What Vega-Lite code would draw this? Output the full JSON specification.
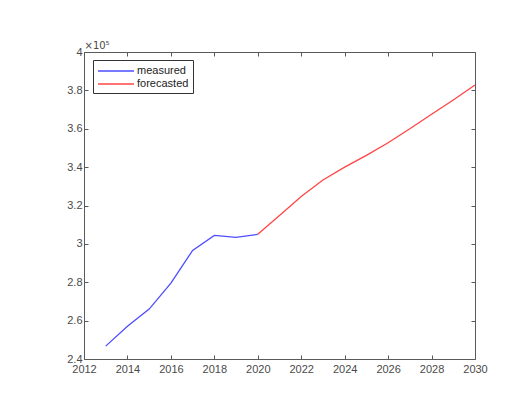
{
  "$schema": "https://vega.github.io/schema/vega-lite/v6.json",
  "autosize": "none",
  "width": 391,
  "height": 307,
  "padding": {"left": 84, "top": 52, "right": 45, "bottom": 46},
  "background": "white",
  "config": {
    "font": "Liberation Sans",
    "view": {"stroke": "#5a5a5a", "strokeWidth": 1},
    "axis": {
      "grid": false,
      "domain": false,
      "tickColor": "#5a5a5a",
      "tickSize": -4,
      "labelFont": "Liberation Sans",
      "labelFontSize": 11,
      "labelColor": "#4a4a4a",
      "labelFlush": false,
      "labelOverlap": false,
      "titleFont": "Liberation Sans"
    }
  },
  "data": {
    "values": [
      {"year": 2013, "value": 246700, "series": "measured"},
      {"year": 2014, "value": 257100, "series": "measured"},
      {"year": 2015, "value": 266000, "series": "measured"},
      {"year": 2016, "value": 279500, "series": "measured"},
      {"year": 2017, "value": 296600, "series": "measured"},
      {"year": 2018, "value": 304400, "series": "measured"},
      {"year": 2019, "value": 303400, "series": "measured"},
      {"year": 2020, "value": 305000, "series": "measured"},
      {"year": 2020, "value": 305000, "series": "forecasted"},
      {"year": 2021, "value": 314800, "series": "forecasted"},
      {"year": 2022, "value": 324700, "series": "forecasted"},
      {"year": 2023, "value": 333300, "series": "forecasted"},
      {"year": 2024, "value": 340000, "series": "forecasted"},
      {"year": 2025, "value": 346100, "series": "forecasted"},
      {"year": 2026, "value": 352700, "series": "forecasted"},
      {"year": 2027, "value": 360000, "series": "forecasted"},
      {"year": 2028, "value": 367600, "series": "forecasted"},
      {"year": 2029, "value": 375000, "series": "forecasted"},
      {"year": 2030, "value": 382800, "series": "forecasted"}
    ]
  },
  "resolve": {"axis": {"x": "independent", "y": "independent"}},
  "layer": [
    {
      "mark": {"type": "line", "strokeWidth": 1.3},
      "encoding": {
        "x": {
          "field": "year", "type": "quantitative",
          "scale": {"domain": [2012, 2030], "nice": false, "zero": false},
          "axis": {"values": [2012, 2014, 2016, 2018, 2020, 2022, 2024, 2026, 2028, 2030], "format": "d", "title": null, "labelPadding": 8}
        },
        "y": {
          "field": "value", "type": "quantitative",
          "scale": {"domain": [240000, 400000], "nice": false, "zero": false},
          "axis": {
            "values": [240000, 260000, 280000, 300000, 320000, 340000, 360000, 380000, 400000],
            "labelExpr": "format(datum.value / 100000, '.1~f')",
            "labelPadding": 6,
            "title": "×10⁵",
            "titleFont": "DejaVu Sans",
            "titleAngle": 0,
            "titleAlign": "left",
            "titleBaseline": "bottom",
            "titleX": 0,
            "titleY": -2,
            "titleFontSize": 10,
            "titleFontWeight": "normal",
            "titleColor": "#4a4a4a"
          }
        },
        "color": {
          "field": "series", "type": "nominal",
          "scale": {"domain": ["measured", "forecasted"], "range": ["#4d4dff", "#ff4545"]},
          "legend": {
            "title": null,
            "orient": "none",
            "legendX": 9,
            "legendY": 8,
            "direction": "vertical",
            "symbolType": "M-1,0H5",
            "symbolSize": 144,
            "symbolStrokeWidth": 1.3,
            "labelFont": "Liberation Sans",
            "labelFontSize": 11,
            "labelColor": "#222",
            "labelOffset": 26,
            "rowPadding": 1,
            "padding": 4,
            "strokeColor": "#333",
            "fillColor": "white"
          }
        }
      }
    },
    {
      "mark": {"type": "line", "opacity": 0},
      "encoding": {
        "x": {
          "field": "year", "type": "quantitative",
          "scale": {"domain": [2012, 2030], "nice": false, "zero": false},
          "axis": {"orient": "top", "values": [2012, 2014, 2016, 2018, 2020, 2022, 2024, 2026, 2028, 2030], "labels": false, "title": null}
        },
        "y": {
          "field": "value", "type": "quantitative",
          "scale": {"domain": [240000, 400000], "nice": false, "zero": false},
          "axis": {"orient": "right", "values": [240000, 260000, 280000, 300000, 320000, 340000, 360000, 380000, 400000], "labels": false, "title": null}
        }
      }
    }
  ]
}
